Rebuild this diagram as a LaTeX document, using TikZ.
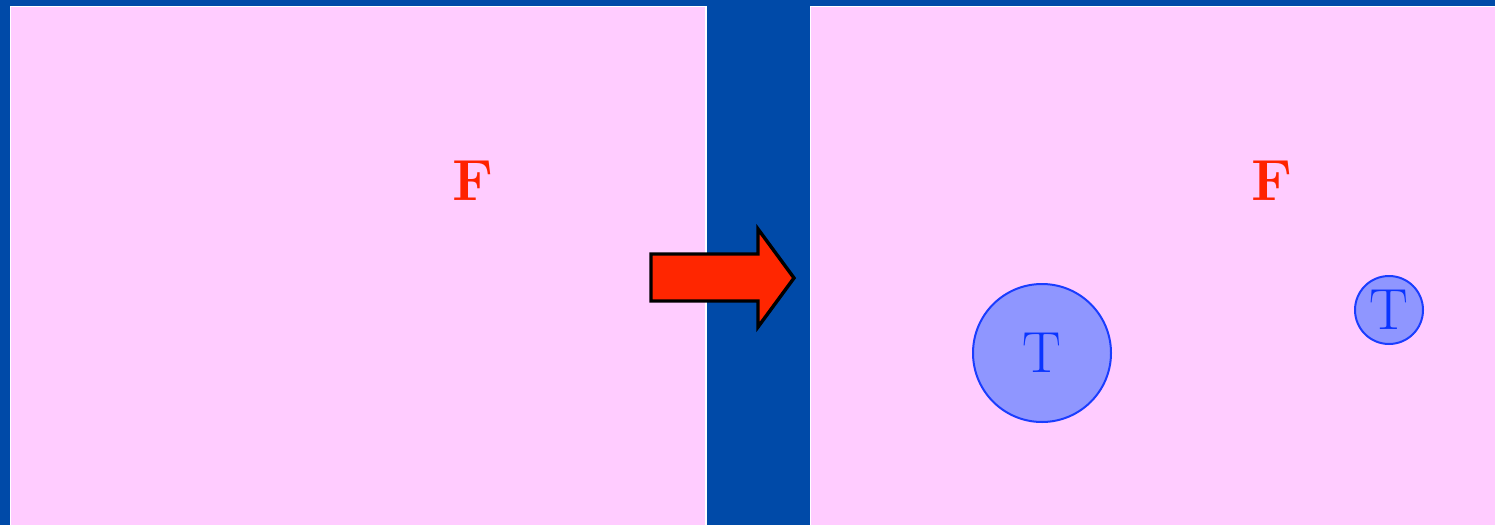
\documentclass[tikz,border=0pt]{standalone}
\usepackage{tikz}
\usetikzlibrary{positioning}

\definecolor{slideblue}{HTML}{004AA8}
\definecolor{panelpink}{HTML}{FFCCFF}
\definecolor{arrowred}{HTML}{FF2600}
\definecolor{letterred}{HTML}{FF2200}
\definecolor{discfill}{HTML}{8F96FF}
\definecolor{discline}{HTML}{1A3DFF}
\definecolor{letterblue}{HTML}{0A35FF}

\begin{document}
\begin{tikzpicture}[
			x=0.5pt, y=-0.5pt,
			panel/.style={fill=panelpink, draw=white, line width=0.6pt},
			fletter/.style={text=letterred, font=\fontsize{29}{30}\selectfont\bfseries, inner sep=0pt},
			disc/.style={circle, fill=discfill, draw=discline, line width=1pt, inner sep=0pt, text=letterblue, font=\fontsize{29}{30}\selectfont},
			bigarrow/.style={fill=arrowred, draw=black, line width=1.7pt, line join=miter}
			]
			
			% Background
			\fill[slideblue] (0,0) rectangle (1495,525);
			\useasboundingbox (0,0) rectangle (1495,525);
			
			% Panels
			\draw[panel] (10.5,6.5) rectangle (706,530);
			\draw[panel] (810.5,6.5) rectangle (1500,530);
			
			% Letters F
			\node[fletter] (fleft) at (473,181) {F};
			\node[fletter] (fright) at (1272,181) {F};
			
			% Discs with T
			\node[disc, minimum size=69pt] (tbig) at (1042,353) {T};
			\node[disc, minimum size=34pt] (tsmall) at (1389,310) {T};
			
			% Arrow between the panels
			\draw[bigarrow] (651,254) -- (758,254) -- (758,229) -- (794,278)
				-- (758,327) -- (758,301) -- (651,301) -- cycle;
			
		\end{tikzpicture}
\end{document}
